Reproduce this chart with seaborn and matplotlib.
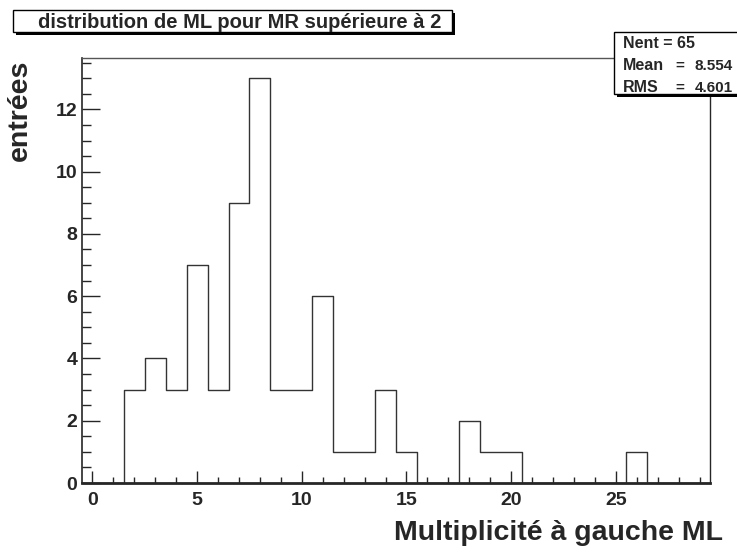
import numpy as np
import pandas as pd
import matplotlib
matplotlib.use("Agg")
import matplotlib.pyplot as plt
from matplotlib.patches import Rectangle
from matplotlib.ticker import MultipleLocator
import seaborn as sns

# ML bins (integer multiplicity, bin width 1) and entries per bin
ml_values = list(range(0, 30))
entries = [0, 0, 3, 4, 3, 7, 3, 9, 13, 3,
           3, 6, 1, 1, 3, 1, 0, 0, 2, 1,
           1, 0, 0, 0, 0, 0, 1, 0, 0, 0]

title = "distribution de ML pour MR supérieure à 2"
x_label = "Multiplicité à gauche ML"
y_label = "entrées"
stats_names = ["Mean", "RMS"]
stats_values = ["8.554", "4.601"]
n_entries = 65

df = pd.DataFrame({"ML": ml_values, "n": entries})

sns.set_style("ticks")
plt.rcParams["font.family"] = ["Liberation Sans", "DejaVu Sans"]
plt.rcParams["font.weight"] = "bold"

W, H = 737, 555
fig = plt.figure(figsize=(W / 100, H / 100), dpi=100)
fig.patch.set_facecolor("white")


def fx(px):
    return px / W


def fy(py):
    return 1 - py / H


ax = fig.add_axes([fx(82), fy(483), fx(710) - fx(82), fy(58) - fy(483)])

sns.histplot(data=df, x="ML", weights="n", discrete=True, element="step",
             fill=False, color="#333333", linewidth=1.0, ax=ax)

ax.set_xlim(-0.5, 29.5)
ax.set_ylim(0, 13.65)
ax.xaxis.set_major_locator(MultipleLocator(5))
ax.xaxis.set_minor_locator(MultipleLocator(1))
ax.yaxis.set_major_locator(MultipleLocator(2))
ax.yaxis.set_minor_locator(MultipleLocator(0.5))
ax.tick_params(axis="x", which="major", direction="in", length=8.6, width=1,
               pad=6.5, labelsize=14)
ax.tick_params(axis="x", which="minor", direction="in", length=4.3, width=1)
ax.tick_params(axis="y", which="major", direction="in", length=13, width=1,
               pad=3.5, labelsize=14)
ax.tick_params(axis="y", which="minor", direction="in", length=6.5, width=1)
for lab in ax.get_xticklabels() + ax.get_yticklabels():
    lab.set_fontweight("bold")

ax.spines["bottom"].set_linewidth(2)
ax.spines["left"].set_linewidth(1.2)
ax.spines["top"].set_linewidth(1)
ax.spines["right"].set_linewidth(1)
ax.spines["top"].set_color("#555555")

ax.set_xlabel("")
ax.set_ylabel("")
fig.text(fx(723), fy(540), x_label, ha="right", va="baseline",
         fontsize=20.5, fontweight="bold")
fig.text(fx(20), fy(60), y_label, ha="center", va="top", rotation=90,
         fontsize=20.5, fontweight="bold")


def shadow_box(x0, y0, x1, y1, off=3):
    fig.add_artist(Rectangle((fx(x0 + off), fy(y1 + off)), fx(x1 - x0), fy(y0) - fy(y1),
                             transform=fig.transFigure, facecolor="black",
                             edgecolor="none", zorder=5))
    fig.add_artist(Rectangle((fx(x0), fy(y1)), fx(x1 - x0), fy(y0) - fy(y1),
                             transform=fig.transFigure, facecolor="white",
                             edgecolor="black", linewidth=1, zorder=6))


# title box
shadow_box(13, 10, 452, 32)
fig.text(fx(38), fy(22), title, ha="left", va="center", fontsize=14.5,
         fontweight="bold", zorder=7)

# stats box
shadow_box(614, 32, 742, 94)
fig.text(fx(623), fy(43), f"Nent = {n_entries}", ha="left", va="center",
         fontsize=11.5, fontweight="bold", zorder=7)
for i, (name, val) in enumerate(zip(stats_names, stats_values)):
    yy = fy(66 + 22 * i)
    fig.text(fx(623), yy, name, ha="left", va="center", fontsize=11.5,
             fontweight="bold", zorder=7)
    fig.text(fx(680), yy, "=", ha="center", va="center", fontsize=11,
             fontweight="bold", zorder=7)
    fig.text(fx(733), yy, val, ha="right", va="center", fontsize=11,
             fontweight="bold", zorder=7)

fig.savefig("out.png", dpi=100)
